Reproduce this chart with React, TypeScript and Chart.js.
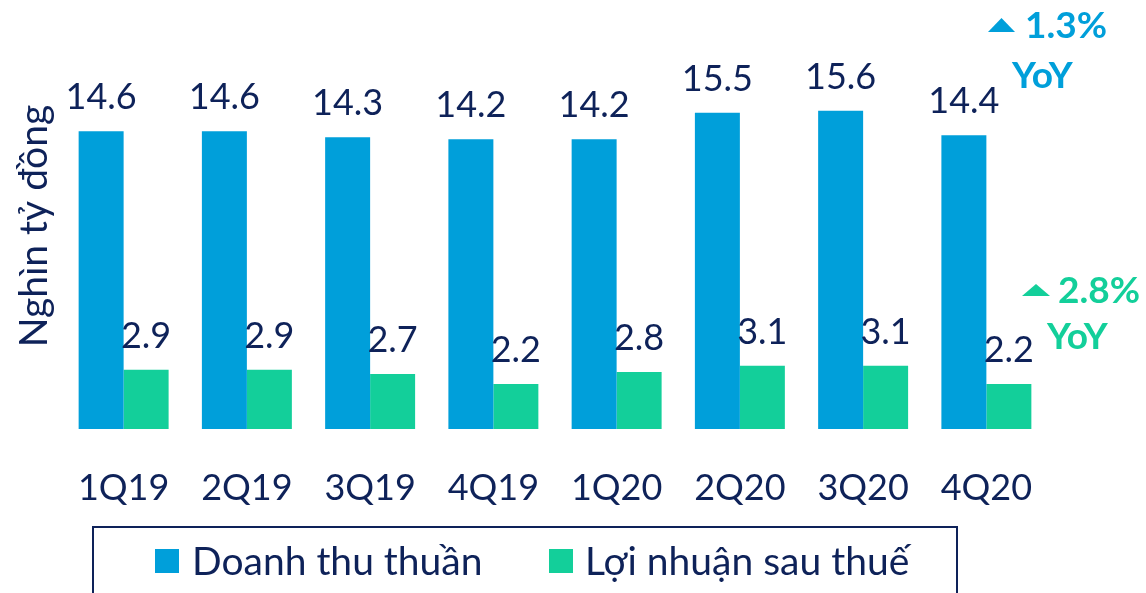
import React, { useEffect, useRef } from "react";
import { Chart, registerables } from "chart.js";

Chart.register(...registerables);

const categories = ["1Q19", "2Q19", "3Q19", "4Q19", "1Q20", "2Q20", "3Q20", "4Q20"];
const revenue = [14.6, 14.6, 14.3, 14.2, 14.2, 15.5, 15.6, 14.4];
const profit = [2.9, 2.9, 2.7, 2.2, 2.8, 3.1, 3.1, 2.2];
const seriesNames = ["Doanh thu thuần", "Lợi nhuận sau thuế"];
const yAxisTitle = "Nghìn tỷ đồng";
const revenueYoY = "1.3%";
const profitYoY = "2.8%";
const yoyLabel = "YoY";

const NAVY = "#0E2259";
const BLUE = "#009FDA";
const GREEN = "#13CF9A";
const FONT = "Lato, 'Noto Sans', sans-serif";

const overlayPlugin = {
  id: "overlay",
  afterDatasetsDraw(chart: any) {
    const ctx = chart.ctx;
    const xs = chart.scales.x;
    ctx.save();
    // value labels
    ctx.fillStyle = NAVY;
    ctx.font = `36px ${FONT}`;
    ctx.textAlign = "center";
    ctx.textBaseline = "alphabetic";
    chart.data.datasets.forEach((ds: any, di: number) => {
      const meta = chart.getDatasetMeta(di);
      meta.data.forEach((bar: any, i: number) => {
        ctx.fillText(String(ds.data[i].toFixed(1)), bar.x, bar.y - 22);
      });
    });
    // category labels
    categories.forEach((c, i) => {
      ctx.fillText(c, xs.getPixelForValue(i), 500);
    });
    // y axis title
    ctx.save();
    ctx.translate(47, 226);
    ctx.rotate(-Math.PI / 2);
    ctx.textAlign = "center";
    ctx.font = `39px ${FONT}`;
    ctx.fillText(yAxisTitle, 0, 0);
    ctx.restore();

    // legend box
    ctx.strokeStyle = NAVY;
    ctx.lineWidth = 2;
    ctx.strokeRect(93, 527, 864, 100);
    ctx.textAlign = "left";
    ctx.fillStyle = BLUE;
    ctx.fillRect(155, 549, 24, 24);
    ctx.fillStyle = GREEN;
    ctx.fillRect(549, 549, 24, 24);
    ctx.fillStyle = NAVY;
    ctx.font = `39px ${FONT}`;
    ctx.fillText(seriesNames[0], 192, 575);
    ctx.fillText(seriesNames[1], 585, 575);

    // YoY annotations
    const tri = (x: number, y: number, w: number, h: number, color: string) => {
      ctx.fillStyle = color;
      ctx.beginPath();
      ctx.moveTo(x, y + h);
      ctx.lineTo(x + w / 2, y);
      ctx.lineTo(x + w, y + h);
      ctx.closePath();
      ctx.fill();
    };
    ctx.font = `bold 37px ${FONT}`;
    tri(988, 18, 27, 14, BLUE);
    ctx.fillStyle = BLUE;
    ctx.fillText(revenueYoY, 1025, 38);
    ctx.fillText(yoyLabel, 1012, 88);
    tri(1022, 284, 28, 12, GREEN);
    ctx.fillStyle = GREEN;
    ctx.fillText(profitYoY, 1058, 303);
    ctx.fillText(yoyLabel, 1047, 349);
    ctx.restore();
  },
};

export default function App() {
  const ref = useRef<HTMLCanvasElement | null>(null);
  useEffect(() => {
    document.body.style.margin = "0";
    const chart = new Chart(ref.current as HTMLCanvasElement, {
      type: "bar",
      data: {
        labels: categories,
        datasets: [
          { label: seriesNames[0], data: revenue, backgroundColor: BLUE, categoryPercentage: 0.73, barPercentage: 1 },
          { label: seriesNames[1], data: profit, backgroundColor: GREEN, categoryPercentage: 0.73, barPercentage: 1 },
        ],
      },
      options: {
        animation: false,
        responsive: false,
        layout: { padding: { left: 62, right: 98, top: 21, bottom: 164 } },
        plugins: { legend: { display: false }, tooltip: { enabled: false } },
        scales: {
          x: { display: false },
          y: { display: false, min: 0, max: 20 },
        },
      },
      plugins: [overlayPlugin],
    });
    return () => chart.destroy();
  }, []);
  return (
    <div style={{ width: 1146, height: 593, background: "#fff" }}>
      <canvas ref={ref} width={1146} height={593} style={{ display: "block" }} />
    </div>
  );
}
